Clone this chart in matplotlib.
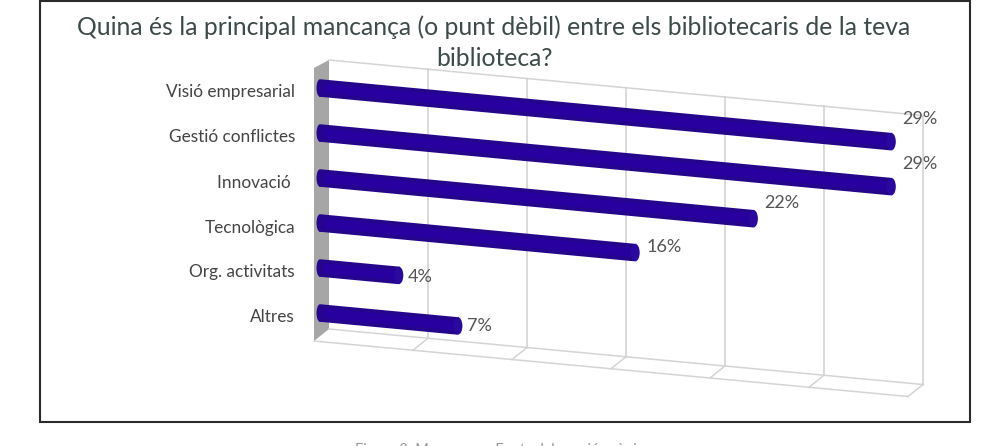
import matplotlib
matplotlib.use('Agg')
import matplotlib.pyplot as plt
from matplotlib.patches import Ellipse, Polygon, Rectangle
from matplotlib.transforms import Affine2D

plt.rcParams['font.family'] = ['Lato', 'DejaVu Sans']

#data
categories = ['Visió empresarial', 'Gestió conflictes', 'Innovació ', 'Tecnològica', 'Org. activitats', 'Altres']
values = [29, 29, 22, 16, 4, 7]
grid_ticks = [0, 5, 10, 15, 20, 25, 30]
title_lines = ['Quina és la principal mancança (o punt dèbil) entre els bibliotecaris de la teva', 'biblioteca?']
caption = 'Figura 3: Mancances. Font: elaboració pròpia'
#label shift from the bar end, in pixels
label_dx = [11, 11, 11, 11, 9, 9]
label_dy = [-23, -23, -16, -6, 2, 0]

#figure in pixels, y going down
fig = plt.figure(figsize=(9.83, 4.46), dpi=100)
ax = fig.add_axes([0, 0, 1, 1])
ax.set_xlim(0, 983)
ax.set_ylim(446, 0)
ax.axis('off')

#sheared 3D look: (percent, category row) -> pixels
bar_tr = Affine2D.from_values(19.7, 1.85, 0, 45, 320, 88)
wall_tr = Affine2D.from_values(19.8, 1.85, 0, 269, 329, 60)

def to_px(tr, x, y):
    return tr.transform((x, y))

#outer frame
ax.add_patch(Rectangle((40, 1), 930, 421, fc='white', ec='#2b2b2b', lw=1.5, zorder=1))

#side wall and floor
top = to_px(wall_tr, 0, 0)
bot = to_px(wall_tr, 0, 1)
ax.add_patch(Polygon([top, top + (-15, 8), bot + (-15, 12), bot], fc='#a6a6a6', ec='none', zorder=2))
end = to_px(wall_tr, 30, 1)
ax.plot(*zip(bot + (-15, 12), end + (-15, 12)), color='#d4d4d4', lw=1.1, zorder=2)
ax.plot(*zip(bot, end), color='#d4d4d4', lw=1.1, zorder=2)
ax.plot(*zip(end, end + (-15, 12)), color='#d4d4d4', lw=1.1, zorder=2)
ax.plot(*zip(top, to_px(wall_tr, 30, 0)), color='#d4d4d4', lw=1.1, zorder=2)

#gridlines
for t in grid_ticks[1:]:
    a = to_px(wall_tr, t, 0)
    b = to_px(wall_tr, t, 1)
    ax.plot(*zip(a, b), color='#cfcfcf', lw=1.1, zorder=2)
    if t < 30:
        ax.plot(*zip(b, b + (-15, 12)), color='#d4d4d4', lw=1.1, zorder=2)

#bars
for i, (name, v) in enumerate(zip(categories, values)):
    a = to_px(bar_tr, 0, i)
    b = to_px(bar_tr, v, i)
    ax.plot(*zip(a, b), color='#24058c', lw=12.6, solid_capstyle='butt', zorder=3)
    ax.plot(*zip(a, b), color='#2800a0', lw=7, solid_capstyle='butt', zorder=3)
    ax.add_patch(Ellipse(a, 7, 17.5, fc='#24058c', ec='none', zorder=3))
    ax.add_patch(Ellipse(b, 9, 17.5, fc='#2a0a9c', ec='none', zorder=4))
    ax.text(295, a[1] + 4.5, name, ha='right', va='center', fontsize=12.4, color='#444444', zorder=5)
    ax.text(b[0] + label_dx[i], b[1] + label_dy[i], f'{v}%', ha='left', va='center',
            fontsize=13, color='#555555', zorder=5)

ax.text(494, 27, title_lines[0], ha='center', va='center', fontsize=17.8, color='#3d4a4a', zorder=5)
ax.text(494, 58, title_lines[1], ha='center', va='center', fontsize=17.8, color='#3d4a4a', zorder=5)
ax.text(500, 443, caption, ha='center', va='top', fontsize=10.5, color='#999999')

fig.savefig('out.png', dpi=100)
